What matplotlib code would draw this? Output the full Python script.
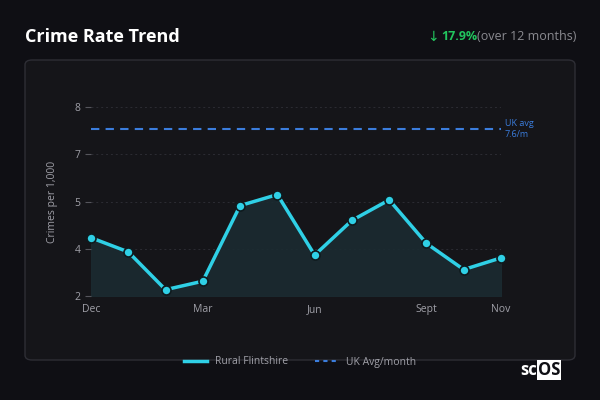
import matplotlib
matplotlib.use("Agg")
import matplotlib.pyplot as plt
from matplotlib.patches import FancyBboxPatch
from matplotlib.lines import Line2D

months = ["Dec","Jan","Feb","Mar","Apr","May","Jun","Jul","Aug","Sept","Oct","Nov"]
values = [3.85, 3.40, 2.20, 2.47, 4.87, 5.22, 3.30, 4.40, 5.05, 3.67, 2.84, 3.21]
uk_avg_line = 7.3
tick_vals = [2, 3.5, 5, 6.5, 8]
tick_labels = ["2", "4", "5", "7", "8"]
shown_months = ["Dec", "Mar", "Jun", "Sept", "Nov"]

plt.rcParams["font.family"] = "Open Sans"
fig = plt.figure(figsize=(6, 4), dpi=100)
fig.patch.set_facecolor("#0f0f14")

card = FancyBboxPatch((25/600, 40/400), 550/600, 300/400, boxstyle="round,pad=0,rounding_size=0.012",
                      transform=fig.transFigure, facecolor="#151519", edgecolor="#2e2e35", lw=1, zorder=-5)
fig.patches.append(card)

fig.text(25/600, 1-37/400, "Crime Rate Trend", color="white", fontsize=13, fontweight="bold", va="center")
fig.text(576/600, 1-37/400, "(over 12 months)", color="#8a8a90", fontsize=9, ha="right", va="center")
fig.text(477/600, 1-37/400, "17.9%", color="#22c55e", fontsize=9, ha="right", va="center", fontweight="bold")
fig.text(439/600, 1-37/400, "↓", color="#22c55e", fontsize=10, ha="right", va="center", family="DejaVu Sans")

ax = fig.add_axes([91/600, 1-296/400, 410/600, 189/400])
ax.set_facecolor("none")
x = list(range(len(months)))
ax.fill_between(x, values, 2, color="#1b2b31", alpha=0.9)
ax.plot(x, values, color="#2fd0e6", lw=2.5, marker="o", ms=6.5, mfc="#2fd0e6", mec="#0f1a1e", mew=1.2, zorder=3, clip_on=False)
ax.axhline(uk_avg_line, color="#3b7ddd", lw=1.5, ls=(0, (4, 3)))
ax.text(len(months)-1+0.1, uk_avg_line, "UK avg\n7.6/m", color="#3b7ddd", fontsize=6.5, va="center", ha="left")
ax.set_xlim(0, len(months)-1)
ax.set_ylim(2, 8)
ax.set_yticks(tick_vals)
ax.set_yticklabels(tick_labels)
ax.set_xticks([months.index(m) for m in shown_months])
ax.set_xticklabels(shown_months)
ax.tick_params(colors="#a0a0a8", labelsize=7.5, length=4)
ax.tick_params(axis="y", color="#55555c")
ax.tick_params(axis="x", length=0, pad=6)
for v in tick_vals:
    ax.axhline(v, color="#2c2c33", lw=0.7, ls=(0, (2, 3)), zorder=0)
for s in ax.spines.values():
    s.set_visible(False)
ax.set_ylabel("Crimes per 1,000", color="#a0a0a8", fontsize=7.5, labelpad=12)

handles = [Line2D([], [], color="#2fd0e6", lw=2.5), Line2D([], [], color="#3b7ddd", lw=1.5, ls=(0, (2, 2)))]
fig.legend(handles, ["Rural Flintshire", "UK Avg/month"], loc="center", bbox_to_anchor=(300/600, 1-362/400),
           ncol=2, frameon=False, fontsize=7.5, labelcolor="#a0a0a8", handlelength=2.2, columnspacing=2.5)

fig.text(537/600, 1-370/400, "sc", color="white", fontsize=12, fontweight="bold", ha="right", va="center")
fig.text(538/600, 1-370/400, "OS", color="#0f0f14", fontsize=12, fontweight="bold", ha="left", va="center",
         bbox=dict(boxstyle="square,pad=0.05", fc="white", ec="none"))
fig.savefig("out.png", dpi=100, facecolor=fig.get_facecolor())
